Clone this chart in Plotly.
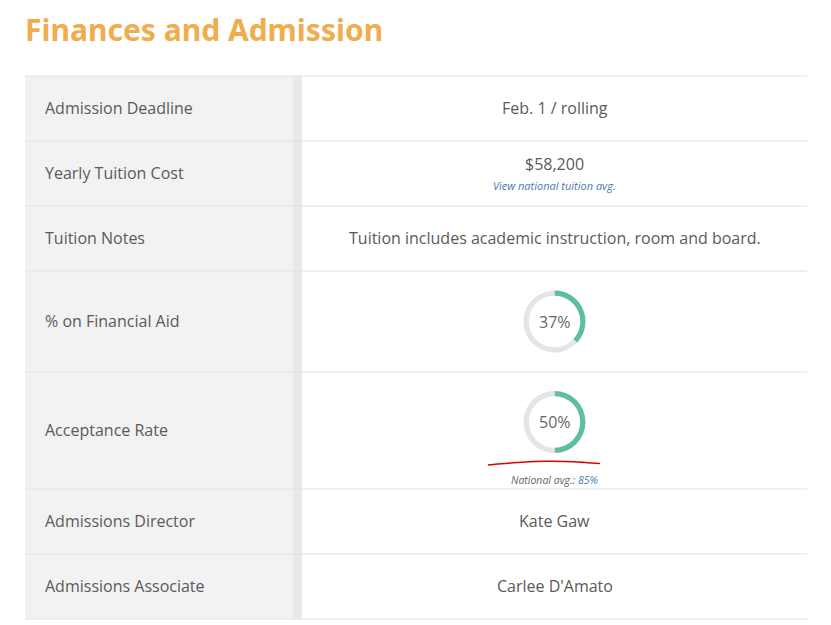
import plotly.graph_objects as go

# table content
labels = ["Admission Deadline", "Yearly Tuition Cost", "Tuition Notes",
          "% on Financial Aid", "Acceptance Rate", "Admissions Director",
          "Admissions Associate"]
values = ["Feb. 1 / rolling", "$58,200",
          "Tuition includes academic instruction, room and board.",
          "37%", "50%", "Kate Gaw", "Carlee D'Amato"]
row_edges = [76, 141, 206, 271, 372, 489, 554, 619]

# donut rows (row index -> percent)
donut_rows = [3, 4]
donut_pct = [37, 50]
national_avg = 85

# hand drawn red underline below the acceptance rate
scribble_x = [488, 505, 525, 545, 565, 585, 600]
scribble_y = [465, 463.5, 462, 461.3, 461.5, 462.5, 463.5]

W, H = 831, 625
OFF = 8  # page body margin, the figure is drawn from (8, 8)
FW, FH = W - OFF, H - OFF
TBL_L, TBL_R = 25, 807
COL_SPLIT, STRIP_W = 293, 9
VAL_X = (COL_SPLIT + STRIP_W + TBL_R) / 2

TXT = "#5a5a5a"
LINK = "#4a7ab0"
GREEN = "#5fbf9a"
RING = "#e5e5e5"
FONT = "Open Sans, DejaVu Sans, sans-serif"

fig = go.Figure()
shapes = []
ann = []

# outer panel border (right side, the left one falls in the page margin)
shapes.append(dict(type="line", x0=827, x1=827, y0=OFF, y1=H,
                   line=dict(color="#dddddd", width=1)))

for i, lab in enumerate(labels):
    top, bot = row_edges[i], row_edges[i + 1]
    mid = (top + bot) / 2
    shapes.append(dict(type="rect", x0=TBL_L, x1=COL_SPLIT, y0=top, y1=bot,
                       fillcolor="#f2f2f2", line=dict(width=0), layer="below"))
    shapes.append(dict(type="rect", x0=COL_SPLIT, x1=COL_SPLIT + STRIP_W,
                       y0=top, y1=bot, fillcolor="#e9e9e9",
                       line=dict(width=0), layer="below"))
    ann.append(dict(x=43, y=mid - 1, text=lab, xanchor="left", yanchor="middle",
                    showarrow=False, font=dict(family=FONT, size=16, color=TXT)))
    if i in donut_rows:
        continue
    if i == 1:
        ann.append(dict(x=VAL_X, y=mid - 10, text=values[i], showarrow=False,
                        font=dict(family=FONT, size=16, color=TXT)))
        ann.append(dict(x=VAL_X, y=mid + 12, text="<i>View national tuition avg.</i>",
                        showarrow=False, font=dict(family=FONT, size=11, color=LINK)))
    else:
        ann.append(dict(x=VAL_X, y=mid - 1, text=values[i], showarrow=False,
                        font=dict(family=FONT, size=16, color=TXT)))

for e in row_edges:
    shapes.append(dict(type="line", x0=TBL_L, x1=TBL_R, y0=e, y1=e,
                       line=dict(color="#e2e2e2", width=1)))

# donuts
R = 31
for r, pct in zip(donut_rows, donut_pct):
    top, bot = row_edges[r], row_edges[r + 1]
    cy = (top + bot) / 2 if r == 3 else top + 50
    fig.add_trace(go.Pie(
        values=[pct, 100 - pct], marker=dict(colors=[GREEN, RING], line=dict(width=0)),
        hole=0.83, sort=False, direction="clockwise", rotation=0,
        textinfo="none", hoverinfo="skip", showlegend=False,
        domain=dict(x=[(VAL_X - R - OFF) / FW, (VAL_X + R - OFF) / FW],
                    y=[1 - (cy + R - OFF) / FH, 1 - (cy - R - OFF) / FH])))
    ann.append(dict(x=VAL_X, y=cy, text=f"{pct}%", showarrow=False,
                    font=dict(family=FONT, size=16, color="#666666")))
    if r == 4:
        ann.append(dict(x=VAL_X, y=bot - 9,
                        text=f"<i>National avg.: <span style='color:{LINK}'>{national_avg}%</span></i>",
                        showarrow=False, font=dict(family=FONT, size=10.5, color="#666666")))

fig.add_trace(go.Scatter(x=scribble_x, y=scribble_y, mode="lines",
                         line=dict(color="#e00000", width=1.6, shape="spline"),
                         hoverinfo="skip", showlegend=False))

ann.append(dict(x=23, y=29, text="<b>Finances and Admission</b>", xanchor="left",
                yanchor="middle", showarrow=False,
                font=dict(family="Noto Sans, Lato, sans-serif", size=30, color="#f0ad4e")))

fig.update_layout(
    width=FW, height=FH, margin=dict(l=0, r=0, t=0, b=0),
    paper_bgcolor="white", plot_bgcolor="white",
    xaxis=dict(range=[OFF, W], visible=False, fixedrange=True),
    yaxis=dict(range=[H, OFF], visible=False, fixedrange=True),
    shapes=shapes, annotations=ann)

fig.write_html("out.html")
